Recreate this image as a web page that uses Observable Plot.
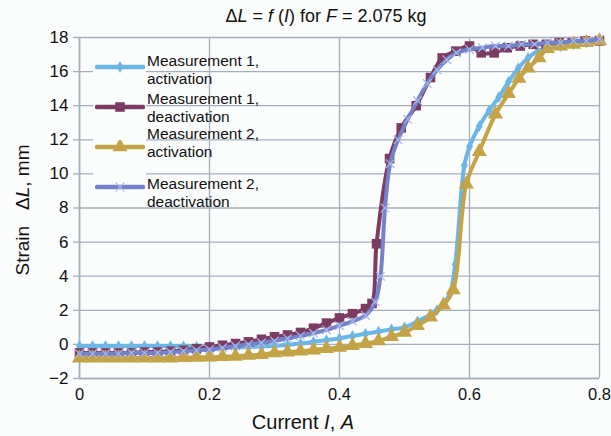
<!DOCTYPE html>
<html>
<head>
<meta charset="utf-8">
<script src="https://cdn.jsdelivr.net/npm/d3@7"></script>
<script src="https://cdn.jsdelivr.net/npm/@observablehq/plot@0.6"></script>
<style>
  html, body { margin: 0; padding: 0; background: #fbfcfc; }
  #wrap { position: relative; width: 611px; height: 436px; font-family: "Liberation Sans", Arial, sans-serif; color: #111; }
  #wrap svg { position: absolute; left: 0; top: 0; }
  .title { position: absolute; left: 0; width: 652px; top: 6px; text-align: center; font-size: 18px; }
  .xlab { position: absolute; left: 0; width: 606px; top: 411px; text-align: center; font-size: 20px; }
  .ylab { position: absolute; left: 23px; top: 210px; transform: translate(-50%, -50%) rotate(-90deg); white-space: nowrap; font-size: 19px; }
  .legbg { position: absolute; left: 93px; top: 48px; width: 53px; height: 158px; background: #fbfcfc; }
  .legtxt { position: absolute; left: 147px; font-size: 15.5px; line-height: 17.5px; white-space: nowrap; }
  .legsw { position: absolute; left: 95px; width: 50px; height: 14px; }
</style>
</head>
<body>
<div id="wrap"></div>
<script>
// ---- data ----
const seriesNames = ["Measurement 1,\nactivation", "Measurement 1,\ndeactivation", "Measurement 2,\nactivation", "Measurement 2,\ndeactivation"];
const xTicks = [0, 0.2, 0.4, 0.6, 0.8];
const yTicks = [-2, 0, 2, 4, 6, 8, 10, 12, 14, 16, 18];

const I_m1a = [0,0.02,0.04,0.06,0.08,0.10,0.12,0.14,0.16,0.18,0.20,0.22,0.24,0.26,0.28,0.30,0.32,0.34,0.36,0.38,0.40,0.42,0.44,0.46,0.48,0.50,0.52,0.54,0.55,0.56,0.57,0.578,0.592,0.60,0.615,0.63,0.645,0.66,0.675,0.69,0.705,0.72,0.74,0.76,0.78,0.80];
const S_m1a = [-0.1,-0.1,-0.1,-0.1,-0.1,-0.1,-0.1,-0.1,-0.12,-0.15,-0.2,-0.2,-0.18,-0.15,-0.12,-0.08,-0.03,0.05,0.15,0.25,0.35,0.5,0.62,0.75,0.88,1.0,1.35,1.75,2.0,2.4,3.0,4.7,10.5,11.6,12.8,13.7,14.5,15.4,16.2,16.8,17.2,17.4,17.5,17.6,17.7,17.8];

const I_m1d = [0,0.02,0.04,0.06,0.08,0.10,0.12,0.14,0.16,0.18,0.20,0.22,0.24,0.26,0.28,0.30,0.32,0.34,0.36,0.38,0.40,0.42,0.44,0.45,0.457,0.477,0.495,0.518,0.54,0.558,0.579,0.60,0.618,0.638,0.658,0.678,0.698,0.718,0.738,0.758,0.778,0.80];
const S_m1d = [-0.5,-0.5,-0.5,-0.5,-0.5,-0.45,-0.45,-0.4,-0.35,-0.25,-0.15,-0.05,0.05,0.15,0.3,0.45,0.55,0.7,0.95,1.25,1.55,1.8,2.1,2.4,5.9,10.9,12.7,14.0,15.65,16.8,17.2,17.5,17.1,17.1,17.4,17.5,17.6,17.6,17.7,17.7,17.8,17.8];

const I_m2a = [0,0.02,0.04,0.06,0.08,0.10,0.12,0.14,0.16,0.18,0.20,0.22,0.24,0.26,0.28,0.30,0.32,0.34,0.36,0.38,0.40,0.42,0.44,0.46,0.48,0.50,0.52,0.54,0.56,0.575,0.595,0.615,0.64,0.66,0.676,0.69,0.707,0.72,0.74,0.76,0.78,0.80];
const S_m2a = [-0.8,-0.8,-0.8,-0.8,-0.8,-0.8,-0.8,-0.8,-0.78,-0.76,-0.75,-0.72,-0.7,-0.65,-0.6,-0.5,-0.45,-0.4,-0.33,-0.25,-0.18,-0.08,0.05,0.2,0.45,0.7,1.1,1.6,2.3,3.2,9.4,11.3,13.5,14.7,15.6,16.2,16.8,17.35,17.5,17.6,17.7,17.8];

const I_m2d = [0,0.02,0.04,0.06,0.08,0.10,0.12,0.14,0.16,0.18,0.20,0.22,0.24,0.26,0.28,0.30,0.32,0.34,0.36,0.38,0.40,0.42,0.44,0.455,0.463,0.47,0.478,0.49,0.505,0.52,0.535,0.55,0.565,0.58,0.60,0.62,0.64,0.66,0.68,0.70,0.72,0.74,0.76,0.78,0.80];
const S_m2d = [-0.55,-0.55,-0.55,-0.55,-0.5,-0.5,-0.5,-0.45,-0.4,-0.35,-0.3,-0.2,-0.1,0.0,0.1,0.2,0.35,0.5,0.65,0.85,1.1,1.35,1.7,2.5,4.0,8.0,10.6,12.0,13.2,14.3,15.3,16.1,16.7,17.1,17.3,17.4,17.5,17.5,17.6,17.6,17.7,17.7,17.8,17.8,17.9];

// ---- styles ----
const colors = ["#6cb6e6", "#7b3b62", "#c3a346", "#7482c9"];
const markerColors = ["#6cb6e6", "#7b3b62", "#c3a346", "#a9b8ea"];
const symbols = ["diamond", "square", "triangle", "times"];
const radii = [3.6, 5.4, 5.6, 4];
const gridColor = "#a3afbb";

const seriesData = [[I_m1a, S_m1a], [I_m1d, S_m1d], [I_m2a, S_m2a], [I_m2d, S_m2d]]
  .map(([xs, ys], k) => xs.map((x, i) => ({x, y: ys[i], k})));

const seriesMarks = [];
seriesData.forEach((rows, k) => {
  seriesMarks.push(Plot.line(rows, {x: "x", y: "y", stroke: colors[k], strokeWidth: 4, curve: "catmull-rom"}));
  const sym = symbols[k];
  seriesMarks.push(Plot.dot(rows, sym === "times"
    ? {x: "x", y: "y", symbol: sym, r: radii[k], stroke: markerColors[k], strokeWidth: 1.2}
    : {x: "x", y: "y", symbol: sym, r: radii[k], fill: markerColors[k], stroke: "none"}));
});

const chart = Plot.plot({
  width: 611, height: 436,
  marginLeft: 79, marginRight: 12, marginTop: 37, marginBottom: 58,
  style: {background: "transparent", fontFamily: "'Liberation Sans', Arial, sans-serif", fontSize: "17px", color: "#111"},
  x: {domain: [0, 0.8], label: null},
  y: {domain: [-2, 18], label: null},
  marks: [
    Plot.gridX(xTicks, {stroke: gridColor, strokeOpacity: 1, strokeWidth: 1.3}),
    Plot.gridY(yTicks, {stroke: gridColor, strokeOpacity: 1, strokeWidth: 1.3}),
    Plot.ruleX([0], {stroke: gridColor, strokeWidth: 1.6}),
    Plot.ruleY([-2], {stroke: gridColor, strokeWidth: 1.6}),
    Plot.axisY(yTicks, {tickSize: 6, tickPadding: 5, stroke: gridColor, strokeWidth: 1.3, fill: "#111", fontSize: 17,
      tickFormat: d => d < 0 ? "\u2212" + Math.abs(d) : String(d)}),
    Plot.axisX(xTicks, {tickSize: 0, tickPadding: 10, fill: "#111", fontSize: 16.5,
      tickFormat: d => d === 0 ? "0" : d.toFixed(1)}),
    ...seriesMarks
  ]
});

const wrap = document.getElementById("wrap");
wrap.appendChild(chart);

function addDiv(cls, html, styleExtra) {
  const d = document.createElement("div");
  d.className = cls;
  d.innerHTML = html;
  if (styleExtra) Object.assign(d.style, styleExtra);
  wrap.appendChild(d);
  return d;
}
addDiv("title", "\u0394<i>L</i> = <i>f</i> (<i>I</i>) for <i>F</i> = 2.075 kg");
addDiv("xlab", "Current <i>I</i>, <i>A</i>");
addDiv("ylab", "Strain&nbsp;&nbsp; \u0394<i>L</i>, mm");

// legend
addDiv("legbg", "");
const legSampleY = [67, 107, 147, 187];
const legTextTop = [52, 90, 125, 175];
seriesNames.forEach((name, k) => {
  addDiv("legtxt", name.replace("\n", "<br>"), {top: legTextTop[k] + "px"});
  const sw = d3.create("svg").attr("width", 50).attr("height", 14);
  sw.append("line").attr("x1", 2).attr("x2", 48).attr("y1", 7).attr("y2", 7)
    .attr("stroke", colors[k]).attr("stroke-width", 4.5).attr("stroke-linecap", "round");
  const symMap = {diamond: d3.symbolDiamond, square: d3.symbolSquare, triangle: d3.symbolTriangle, times: d3.symbolTimes};
  const size = Math.PI * radii[k] * radii[k];
  const p = sw.append("path").attr("transform", "translate(25,7)")
    .attr("d", d3.symbol(symMap[symbols[k]], size)());
  if (symbols[k] === "times") p.attr("fill", "none").attr("stroke", markerColors[k]).attr("stroke-width", 1.2);
  else p.attr("fill", markerColors[k]);
  const holder = addDiv("legsw", "", {top: (legSampleY[k] - 7) + "px"});
  holder.appendChild(sw.node());
});
</script>
</body>
</html>
